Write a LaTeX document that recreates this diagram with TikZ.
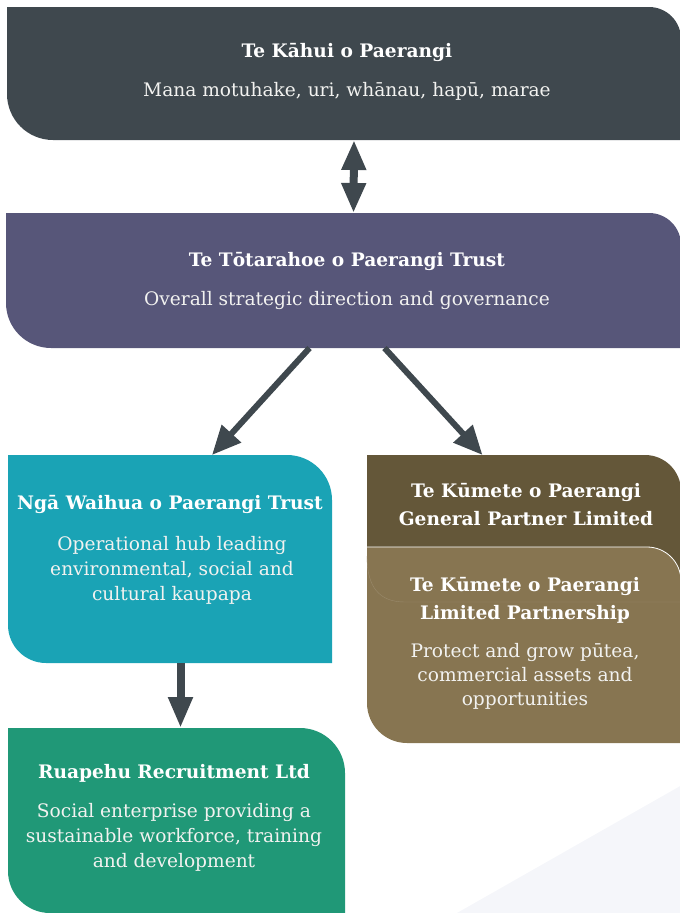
\documentclass[tikz,border=0pt]{standalone}
\usepackage{fontspec}
\setmainfont{DejaVu Serif}
\usetikzlibrary{arrows.meta}
\definecolor{slate}{HTML}{3F484E}
\definecolor{dusk}{HTML}{575679}
\definecolor{waihuablue}{HTML}{1AA3B5}
\definecolor{ruapehugreen}{HTML}{209877}
\definecolor{kumetedark}{HTML}{645739}
\definecolor{kumetelight}{HTML}{877551}
\definecolor{haze}{HTML}{F5F6FA}
\definecolor{bodywhite}{HTML}{F2F2F0}
\newcommand{\boxtitlefont}{\bfseries\fontsize{18.6}{28}\selectfont}
\newcommand{\boxbodyfont}{\fontsize{18.6}{25}\selectfont}
\tikzset{
	orgbox/.style n args={3}{rectangle, inner sep=0pt, outer sep=0pt,
		path picture={\fill[#1] (path picture bounding box.north west)
			-- ([xshift=-#2]path picture bounding box.north east)
			arc[start angle=90, end angle=0, radius=#2]
			-- (path picture bounding box.south east)
			-- ([xshift=#3]path picture bounding box.south west)
			arc[start angle=270, end angle=180, radius=#3] -- cycle;}},
	boxtitle/.style={text=white, font=\boxtitlefont, align=center, inner sep=0pt},
	boxbody/.style={text=bodywhite, font=\boxbodyfont, align=center, inner sep=0pt},
	flow/.style={draw=slate, line width=6pt, arrows={-Triangle[length=29pt,width=25pt]}},
	flowdown/.style={draw=slate, line width=8pt, arrows={-Triangle[length=31pt,width=23pt]}},
	flowboth/.style={draw=slate, line width=8pt,
		arrows={Triangle[length=30pt,width=23pt]-Triangle[length=30pt,width=23pt]}}
}

\begin{document}
\begin{tikzpicture}[x=1pt, y=-1pt]
	\useasboundingbox (0,0) rectangle (680,913);
	\fill[haze] (457,913) -- (682,785) -- (682,913) -- cycle;

	\node[orgbox={slate}{32pt}{46pt}, minimum width=674pt, minimum height=133pt] (kahui) at (344,73.5) {};
	\node[orgbox={dusk}{32pt}{45pt}, minimum width=675pt, minimum height=135pt] (totara) at (343.5,280.5) {};
	\node[orgbox={waihuablue}{45pt}{38pt}, minimum width=324pt, minimum height=208pt] (waihua) at (170,559) {};
	\node[orgbox={ruapehugreen}{45pt}{42pt}, minimum width=337pt, minimum height=185pt] (ruapehu) at (176.5,820.5) {};
	\node[orgbox={kumetedark}{36pt}{2pt}, minimum width=314pt, minimum height=145pt] (kumeteGP) at (524,527.5) {};
	\node[orgbox={kumetelight}{34pt}{40pt}, minimum width=314pt, minimum height=196pt] (kumeteLP) at (524,645) {};

	\draw[white, line width=0.8pt] (kumeteLP.north west) -- ([xshift=-34pt]kumeteLP.north east)
		arc[start angle=90, end angle=0, radius=34pt];
	\draw[kumetelight!85!white, line width=0.4pt] ([yshift=-9pt]kumeteLP.north west)
		.. controls ([yshift=-40pt]kumeteLP.north west) and ([xshift=12pt,yshift=-55pt]kumeteLP.north west)
		.. ([xshift=38pt,yshift=-55pt]kumeteLP.north west) -- ([yshift=-55pt]kumeteLP.north east);

	\draw[flowboth] ([xshift=10pt]kahui.south) -- ([xshift=10pt]totara.north);
	\draw[flow] ([xshift=-34pt]totara.south) -- ([xshift=42pt]waihua.north);
	\draw[flow] ([xshift=41pt]totara.south) -- ([xshift=-41.5pt]kumeteGP.north);
	\draw[flowdown] ([xshift=10.5pt]waihua.south) -- ([xshift=10.5pt]waihua.south |- ruapehu.north);

	\node[boxtitle] (kahuiname) at (347,52) {Te Kāhui o Paerangi};
	\node[boxbody] (kahuirole) at (347,91) {Mana motuhake, uri, whānau, hapū, marae};
	\node[boxtitle] (totaraname) at (347,261) {Te Tōtarahoe o Paerangi Trust};
	\node[boxbody] (totararole) at (347,300) {Overall strategic direction and governance};
	\node[boxtitle] (waihuaname) at (170,504) {Ngā Waihua o Paerangi Trust};
	\node[boxbody] (waihuarole) at (172,570) {Operational hub leading\\environmental, social and\\cultural kaupapa};
	\node[boxtitle] (ruapehuname) at (174,773) {Ruapehu Recruitment Ltd};
	\node[boxbody] (ruapehurole) at (174,837) {Social enterprise providing a\\sustainable workforce, training\\and development};
	\node[boxtitle] (kumeteGPname) at (526,504.5) {Te Kūmete o Paerangi\\General Partner Limited};
	\node[boxtitle] (kumeteLPname) at (525,600.5) {Te Kūmete o Paerangi\\Limited Partnership};
	\node[boxbody, font=\fontsize{18.6}{24}\selectfont] (kumeteLProle) at (525,676) {Protect and grow pūtea,\\commercial assets and\\opportunities};
\end{tikzpicture}
\end{document}
